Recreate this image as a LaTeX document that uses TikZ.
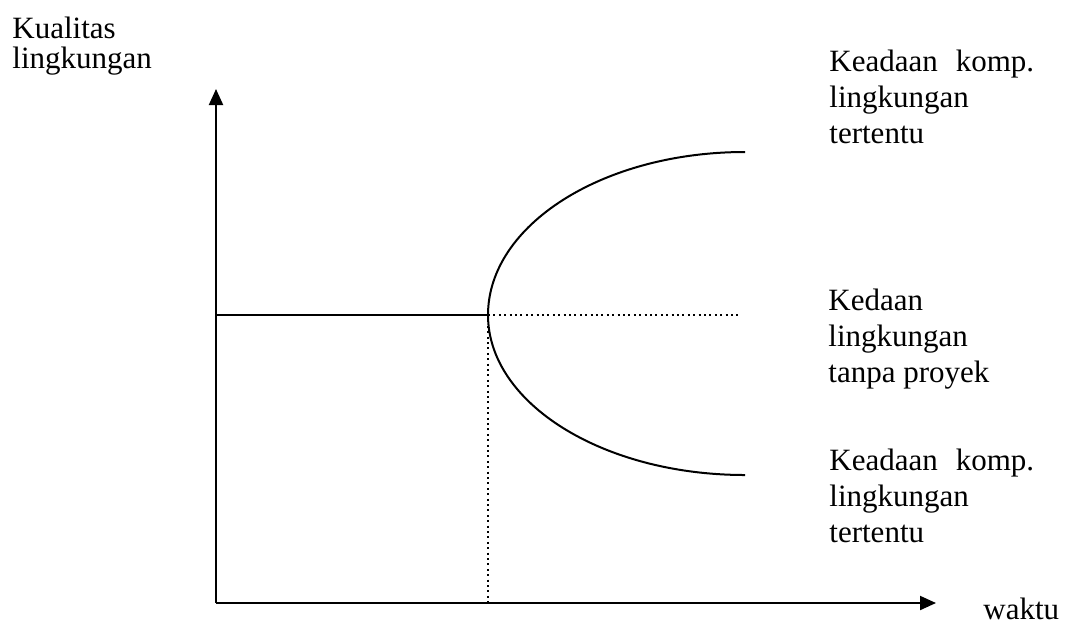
\documentclass[tikz,border=0pt]{standalone}
\usepackage{fontspec}
\setmainfont{Liberation Serif}
\usepackage{tikz}
\usetikzlibrary{positioning,arrows.meta}

\begin{document}
\begin{tikzpicture}[
    x=0.5pt, y=-0.5pt,
    axis/.style={draw, line width=1pt, -{Triangle[length=8pt,width=7pt]}},
    curve/.style={draw, line width=1pt},
    guide/.style={draw, line width=1pt, dash pattern=on 1pt off 1.7pt},
    label/.style={anchor=base west, align=left, inner sep=0pt, font=\fontsize{15.5}{17.8}\selectfont}
]
\useasboundingbox (0,0) rectangle (1068,632);

% Points
\coordinate (origin) at (216,603);
\coordinate (ytip) at (216,89);
\coordinate (xtip) at (936,603);
\coordinate (start) at (216,315);
\coordinate (split) at (488,315);
\coordinate (foot) at (488,603);
\coordinate (plain) at (740,315);

% Axes
\draw[axis] (origin) -- (ytip);
\draw[axis] (origin) -- (xtip);

% Paths
\draw[curve] (start) -- (split);
\draw[guide] (split) -- (plain);
\draw[guide] (split) -- (foot);
\draw[curve] (split) arc[start angle=180, end angle=90, x radius=257, y radius=-163];
\draw[curve] (split) arc[start angle=180, end angle=270, x radius=257, y radius=-160];

% Labels (placed at the baseline of their last line)
\node[label, font=\fontsize{15.5}{15}\selectfont] (ylabel) at (12,68) {Kualitas\\lingkungan};
\node[label] (upper) at (829,143) {Keadaan\hspace{9pt}komp.\\lingkungan\\tertentu};
\node[label] (middle) at (828,382) {Kedaan\\lingkungan\\tanpa proyek};
\node[label] (lower) at (829,542) {Keadaan\hspace{9pt}komp.\\lingkungan\\tertentu};
\node[label] (xlabel) at (983,619) {waktu};

\end{tikzpicture}
\end{document}
